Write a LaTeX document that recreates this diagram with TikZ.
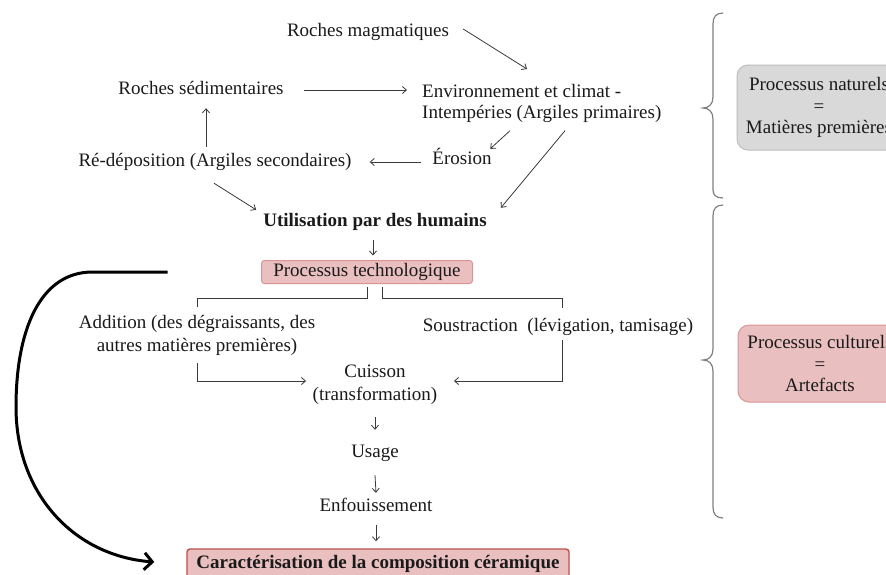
\documentclass[tikz,border=0pt]{standalone}
\usepackage{fontspec}
\setmainfont{Liberation Serif}
\usetikzlibrary{arrows.meta}
\definecolor{pinkfill}{HTML}{E9BFBF}
\definecolor{pinkdraw}{HTML}{DB9494}
\definecolor{reddraw}{HTML}{C0504D}
\definecolor{grayfill}{HTML}{D9D9D9}
\definecolor{graydraw}{HTML}{BDBDBD}
\definecolor{linec}{HTML}{3A3A3A}
\definecolor{bracec}{HTML}{808080}
\definecolor{textc}{HTML}{1A1A1A}
\tikzset{
  txt/.style={inner sep=0pt, text=textc, font=\fontsize{19}{21}\selectfont, text height=13pt, text depth=4pt},
  mtxt/.style={inner sep=0pt, text=textc, align=center},
  arr/.style={draw=linec, line width=0.8pt, -{Straight Barb[length=4pt,width=7pt]}},
  ln/.style={draw=linec, line width=0.8pt},
  pinkbox/.style={draw=pinkdraw, fill=pinkfill, line width=1pt, rounded corners=3pt, inner sep=0pt},
  sidebox/.style={rounded corners=11pt, line width=1pt, inner sep=0pt, minimum width=164pt, align=center, text=textc, font=\fontsize{19}{21.5}\selectfont},
  bracest/.style={draw=bracec, line width=1.2pt},
  bigarr/.style={draw=black, line width=3pt, -{Straight Barb[length=8pt,width=17pt]}}
}
\begin{document}
\begin{tikzpicture}[x=1pt,y=-1pt]
\useasboundingbox (0,0) rectangle (886,574);
\clip (0,0) rectangle (886,574);
\fill[white] (0,0) rectangle (886,574);

% nodes
\node[txt] (mag) at (368,32) {Roches magmatiques};
\node[txt] (sed) at (201,90) {Roches sédimentaires};
\node[mtxt, align=left, anchor=north west, font=\fontsize{19}{21}\selectfont] (env) at (422,84) {Environnement et climat -\\Intempéries (Argiles primaires)};
\node[txt] (ero) at (462,160) {Érosion};
\node[txt] (redep) at (215,162) {Ré-déposition (Argiles secondaires)};
\node[txt, font=\fontsize{19}{21}\selectfont\bfseries] (util) at (375,222) {Utilisation par des humains};
\node[pinkbox, txt, minimum width=211pt, minimum height=23pt] (proc) at (367,272) {Processus technologique};
\node[mtxt, anchor=north, font=\fontsize{19}{23}\selectfont] (add) at (197,315.5) {Addition (des dégraissants, des\\autres matières premières)};
\node[txt] (sous) at (558,327) {Soustraction\ \ (lévigation, tamisage)};
\node[mtxt, anchor=north, font=\fontsize{19}{23}\selectfont] (cuis) at (375,364.5) {Cuisson\\(transformation)};
\node[txt] (usage) at (375,453) {Usage};
\node[txt] (enf) at (376,507) {Enfouissement};
\node[pinkbox, draw=reddraw, line width=1.4pt, txt, font=\fontsize{19}{21}\selectfont\bfseries, minimum width=382pt, minimum height=29pt] (carac) at (378,563.5) {Caractérisation de la composition céramique};

\node[sidebox, draw=graydraw, fill=grayfill, minimum height=85pt] (nat) at (819,107.5) {Processus naturels\\=\\Matières premières};
\node[sidebox, draw=pinkdraw, fill=pinkfill, minimum height=77pt] (cult) at (820,363.5) {Processus culturels\\=\\Artefacts};

% connectors
\draw[arr] ([shift={(14,-3)}]mag.east) -- ([shift={(105,-15)}]env.north west);
\draw[arr] ([shift={(20,0)}]sed.east) -- ([shift={(-15,6)}]env.north west);
\draw[arr] ([shift={(88,8)}]env.south west) -- ([shift={(-1.5,-2.5)}]ero.north east);
\draw[arr] ([shift={(143,8)}]env.south west) -- ([shift={(14,-5.5)}]util.north east);
\draw[arr] ([shift={(-11.5,2)}]ero.west) -- ([shift={(18,0)}]redep.east);
\draw[arr] ([shift={(-9,-6.5)}]redep.north) -- ([shift={(5,9.5)}]sed.south);
\draw[arr] ([shift={(-1,12.5)}]redep.south) -- ([shift={(-7,-3.5)}]util.north west);
\draw[arr] ([shift={(-2,9.5)}]util.south) -- ([shift={(6,-4.5)}]proc.north);
\draw[ln] ([shift={(0,3)}]proc.south) -- ++(0,11) -| ([shift={(0,-8.5)}]add.north);
\draw[ln] ([shift={(15,3)}]proc.south) -- ++(0,11) -| ([shift={(4,-10)}]sous.north);
\draw[arr] ([shift={(0,7)}]add.south) |- ([shift={(-6.5,-3.5)}]cuis.west);
\draw[arr] ([shift={(4,4.5)}]sous.south) |- ([shift={(16.5,-3.5)}]cuis.east);
\draw[arr] ([shift={(0,12.5)}]cuis.south) -- ([shift={(0,-14.5)}]usage.north);
\draw[arr] ([shift={(0,13.5)}]usage.south) -- ([shift={(0,-5.5)}]enf.north);
\draw[arr] ([shift={(0,9.5)}]enf.south) -- ([shift={(-2,-7)}]carac.north);

\draw[bigarr] ([shift={(-93.5,0)}]proc.west) -- ++(-75,0)
  .. controls (40,272) and (16,330) .. (16,407)
  .. controls (16,495) and (75,556) .. ([shift={(-32,-1.5)}]carac.west);

% braces
\draw[bracest] (723,13) .. controls (716,13) and (713,17) .. (713,24) -- (713,97)
  .. controls (713,104) and (709,108) .. (703,108)
  .. controls (709,108) and (713,112) .. (713,119) -- (713,190)
  .. controls (713,195) and (716,198) .. (723,198);
\draw[bracest] (723,205) .. controls (716,205) and (713,209) .. (713,216) -- (713,349)
  .. controls (713,356) and (709,360) .. (703,360)
  .. controls (709,360) and (713,364) .. (713,371) -- (713,507)
  .. controls (713,514) and (716,518) .. (723,518);
\end{tikzpicture}
\end{document}
